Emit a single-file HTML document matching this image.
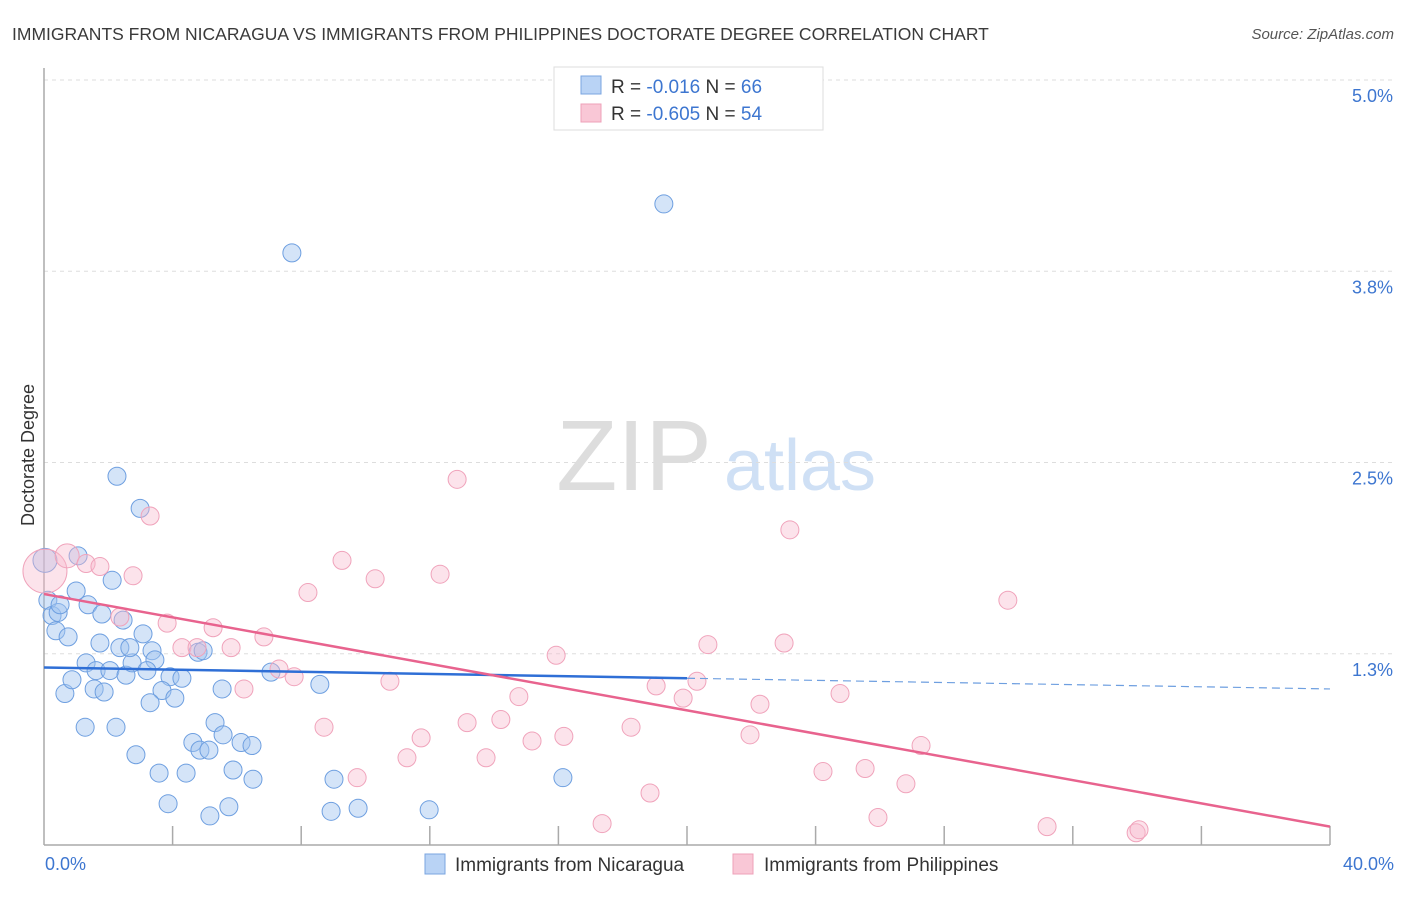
<!DOCTYPE html>
<html><head><meta charset="utf-8"><style>
body{margin:0;background:#fff;font-family:"Liberation Sans",sans-serif;}
svg text{font-family:"Liberation Sans",sans-serif;}
</style></head><body>
<svg id="chart" width="1406" height="892" xmlns="http://www.w3.org/2000/svg">
<text x="12" y="40" font-size="17.5" fill="#3a3a3a">IMMIGRANTS FROM NICARAGUA VS IMMIGRANTS FROM PHILIPPINES DOCTORATE DEGREE CORRELATION CHART</text>
<text x="1394" y="39" font-size="15" fill="#555" font-style="italic" text-anchor="end">Source: ZipAtlas.com</text>
<g>
<text x="634" y="490" font-size="100" fill="#ddd" font-family="Liberation Serif,serif" text-anchor="middle">ZIP</text>
<text x="800" y="490" font-size="72" fill="#cfe0f5" text-anchor="middle">atlas</text>
</g>
<g id="grid"></g>
<g id="axes"></g>
<g id="marks"></g>
<text transform="translate(34,455) rotate(-90)" font-size="18" fill="#333" text-anchor="middle">Doctorate Degree</text>
<g>
<rect x="554" y="67" width="269" height="63" fill="#fff" stroke="#ddd"/>
<rect x="581" y="76" width="20" height="18" fill="#b9d3f5" stroke="#7aa5e0"/>
<text x="611" y="93" font-size="19" fill="#333">R = <tspan fill="#3d76d0">-0.016</tspan>   N = <tspan fill="#3d76d0">66</tspan></text>
<rect x="581" y="104" width="20" height="18" fill="#f9c7d6" stroke="#eea0b8"/>
<text x="611" y="120" font-size="19" fill="#333">R = <tspan fill="#3d76d0">-0.605</tspan>   N = <tspan fill="#3d76d0">54</tspan></text>
</g>
<g>
<rect x="425" y="854" width="20" height="20" fill="#b9d3f5" stroke="#7aa5e0"/>
<text x="455" y="871" font-size="19" fill="#333">Immigrants from Nicaragua</text>
<rect x="733" y="854" width="20" height="20" fill="#f9c7d6" stroke="#eea0b8"/>
<text x="764" y="871" font-size="19" fill="#333">Immigrants from Philippines</text>
</g>
</svg>
<script>
const yTicks=[1.25,2.5,3.75,5.0];
const yTickLabels=["1.3%","2.5%","3.8%","5.0%"];
const xTickLabels=["0.0%","40.0%"];
const nicX=[0.03,0.12,0.25,0.44,0.5,0.37,0.75,1.0,1.06,1.37,1.74,1.8,2.12,2.46,2.27,2.99,3.08,1.31,1.62,2.05,2.36,2.55,2.74,2.67,3.36,3.45,3.2,3.92,4.29,3.67,4.07,3.3,0.65,0.87,1.56,1.87,1.28,2.24,2.86,3.58,4.42,4.63,4.85,5.13,5.32,5.57,5.54,4.79,4.95,5.88,6.13,6.47,6.5,7.06,8.58,9.02,3.86,5.16,5.75,8.93,9.77,11.98,16.14,7.71,19.28];
const nicY=[1.86,1.6,1.5,1.52,1.57,1.4,1.36,1.66,1.89,1.57,1.32,1.51,1.73,1.47,2.41,2.2,1.38,1.19,1.14,1.14,1.29,1.11,1.19,1.29,1.27,1.21,1.14,1.1,1.09,1.01,0.96,0.93,0.99,1.08,1.02,1.0,0.77,0.77,0.59,0.47,0.47,0.67,0.62,0.62,0.8,0.72,1.02,1.26,1.27,0.49,0.67,0.65,0.43,1.13,1.05,0.43,0.27,0.19,0.25,0.22,0.24,0.23,0.44,3.87,4.19];
const phiX=[0.03,0.72,1.31,1.74,2.77,3.3,2.36,3.83,4.29,4.76,5.26,5.82,6.84,7.31,7.78,6.22,8.21,9.27,10.3,12.32,12.85,10.76,8.71,9.74,11.29,11.73,13.16,13.75,14.21,14.77,15.18,16.17,15.93,18.26,19.04,19.88,20.31,20.65,21.96,22.27,23.02,23.2,24.23,24.76,25.54,25.94,26.81,27.28,29.98,31.2,33.97,34.06,17.36,18.85];
const phiY=[1.79,1.89,1.84,1.82,1.76,2.15,1.49,1.45,1.29,1.29,1.42,1.29,1.36,1.15,1.1,1.02,1.65,1.86,1.74,1.77,2.39,1.07,0.77,0.44,0.57,0.7,0.8,0.57,0.82,0.97,0.68,0.71,1.24,0.77,1.04,0.96,1.07,1.31,0.72,0.92,1.32,2.06,0.48,0.99,0.5,0.18,0.4,0.65,1.6,0.12,0.08,0.1,0.14,0.34];
const nicTrend=[1.16,1.02];
const phiTrend=[1.64,0.12];
const NS="http://www.w3.org/2000/svg";
const X0=44,X1=1330,Y0=845,YT=80;
const sx=v=>X0+v/40*(X1-X0);
const sy=v=>Y0-v/5*(Y0-YT);
function mk(tag,attrs,parent){const e=document.createElementNS(NS,tag);for(const k in attrs)e.setAttribute(k,attrs[k]);document.getElementById(parent).appendChild(e);return e;}
yTicks.forEach((t,i)=>{
 const l=mk('line',{x1:X0,x2:1394,y1:sy(t),y2:sy(t),stroke:'#ddd','stroke-dasharray':'4,4'},'grid');
 
 
 const tx=mk('text',{x:1393,y:sy(t)+22,'font-size':18,fill:'#3d76d0','text-anchor':'end'},'grid');
 tx.textContent=yTickLabels[i];
 
 
});
const ax=mk('line',{x1:X0,x2:X0,y1:68,y2:Y0,stroke:'#aaa','stroke-width':1.5},'axes');


const bx=mk('line',{x1:X0,x2:X1,y1:Y0,y2:Y0,stroke:'#aaa','stroke-width':1.5},'axes');


for(let i=1;i<=10;i++){
 const t=mk('line',{x1:sx(i*4),x2:sx(i*4),y1:Y0-19,y2:Y0,stroke:'#aaa','stroke-width':1.5},'axes');
 
 
}
[[0,'start',45],[40,'end',1394]].forEach((d,i)=>{
 const t=mk('text',{x:d[2],y:870,'font-size':18,fill:'#3d76d0','text-anchor':d[1]},'axes');
 t.textContent=xTickLabels[i];
 
 
});
nicX.forEach((x,i)=>{
 const c=mk('circle',{cx:sx(x),cy:sy(nicY[i]),r:i==0?12:9,fill:'rgba(160,196,240,0.45)',stroke:'#6e9fe0','stroke-width':1},'marks');
 
 
});
phiX.forEach((x,i)=>{
 const c=mk('circle',{cx:sx(x),cy:sy(phiY[i]),r:i==0?22:(i==1?12:9),fill:'rgba(248,185,205,0.4)',stroke:'#f0a3bb','stroke-width':1},'marks');
 
 
});
const nm=nicTrend[0]+(nicTrend[1]-nicTrend[0])*(20/40);
const l1=mk('line',{x1:sx(0),y1:sy(nicTrend[0]),x2:sx(20),y2:sy(nm),stroke:'#2f6fd6','stroke-width':2.5},'marks');


const l2=mk('line',{x1:sx(20),y1:sy(nm),x2:sx(40),y2:sy(nicTrend[1]),stroke:'#6e9fe0','stroke-width':1.2,'stroke-dasharray':'8,5'},'marks');


const l3=mk('line',{x1:sx(0),y1:sy(phiTrend[0]),x2:sx(40),y2:sy(phiTrend[1]),stroke:'#e8638e','stroke-width':2.5},'marks');


</script>
</body></html>
